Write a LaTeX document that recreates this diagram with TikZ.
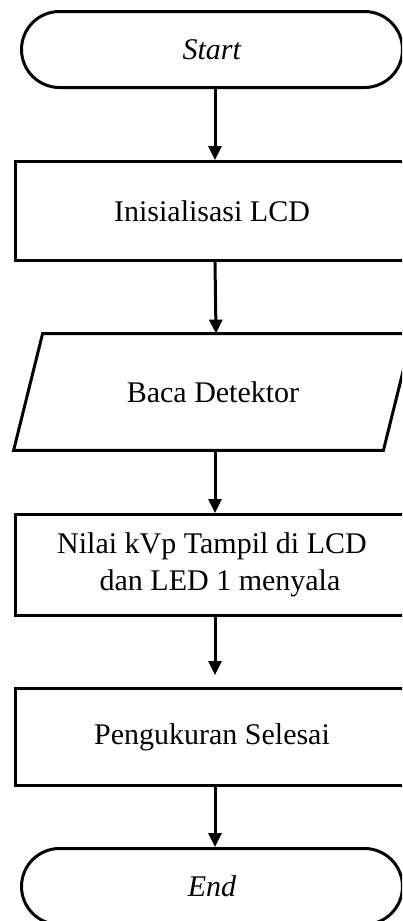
\documentclass[tikz,border=0pt]{standalone}
\usepackage{fontspec}
\setmainfont{Liberation Serif}
\usetikzlibrary{arrows.meta}
\tikzset{
  >={Triangle[width=6.5pt,length=7pt]},
  every node/.style={font=\fontsize{15}{18.5}\selectfont,text=black},
  terminal/.style={draw,line width=1.5pt,rounded corners=19pt,minimum width=190.5pt,minimum height=38pt},
  proc/.style={draw,line width=1.5pt,minimum width=196.5pt,align=center},
  iobox/.style={minimum width=184.5pt,minimum height=58pt},
  border/.style={line width=1.5pt,line join=miter},
  arrow/.style={->,line width=1.5pt}
}

\begin{document}
\begin{tikzpicture}[x=0.5pt,y=-0.5pt]
  \useasboundingbox (0,0) rectangle (402,921);
  \clip (0,0) rectangle (402,921);

  \node[terminal] (start) at (212,49.5) {\textit{Start}};
  \node[proc,minimum height=49.5pt] (init) at (212,211) {Inisialisasi LCD};
  \node[iobox] (read) at (213,392) {Baca Detektor};
  \draw[border] ([xshift=-7.25pt]read.south west) -- ([xshift=7.25pt]read.north west)
    -- ([xshift=7.25pt]read.north east) -- ([xshift=-7.25pt]read.south east) -- cycle;
  \node[proc,minimum height=50.5pt] (show) at (212,565) {Nilai kVp Tampil di LCD\\\hspace*{8pt}dan LED 1 menyala};
  \node[proc,minimum height=48.5pt] (done) at (212,737) {Pengukuran Selesai};
  \node[terminal] (end) at (212,886.5) {\textit{End}};

  \draw[arrow] ([xshift=1.5pt]start.south) -- ([xshift=1.5pt]init.north);
  \draw[arrow] ([xshift=1.5pt]init.south) -- ([xshift=1.5pt]read.north);
  \draw[arrow] ([xshift=1pt]read.south) -- ([xshift=1.5pt]show.north);
  \draw[arrow,shorten >=6pt] ([xshift=1.5pt]show.south) -- ([xshift=1.5pt]done.north);
  \draw[arrow] ([xshift=1.5pt]done.south) -- ([xshift=1.5pt]end.north);
\end{tikzpicture}
\end{document}
